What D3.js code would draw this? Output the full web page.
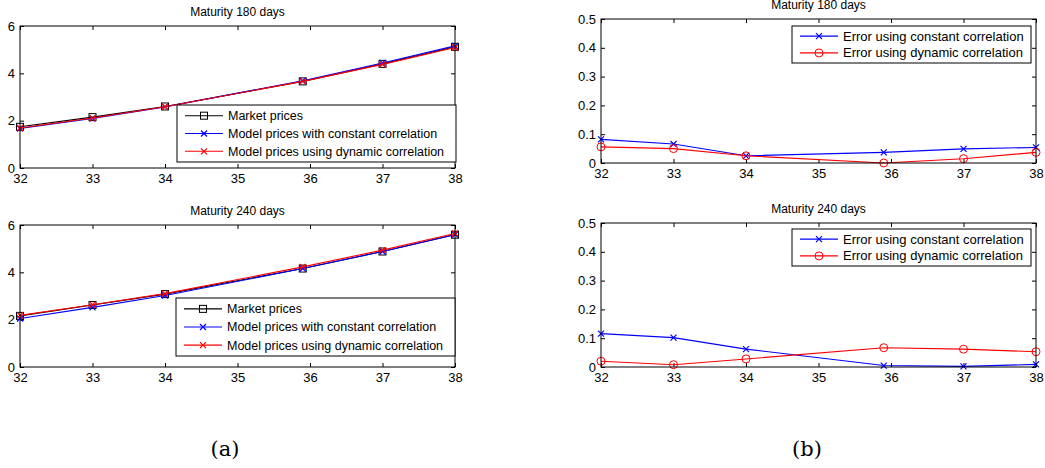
<!DOCTYPE html>
<html>
<head>
<meta charset="utf-8">
<script src="https://cdn.jsdelivr.net/npm/d3@7"></script>
<style>
body { margin: 0; background: #fff; }
svg { display: block; }
text { font-family: "Liberation Sans", Arial, sans-serif; }
text.caption { font-family: "DejaVu Serif", "Liberation Serif", serif; }
</style>
</head>
<body>
<div id="app"></div>
<script>
// data
let strikes = [32, 33, 34, 35.9, 37, 38]
let xTicks = [32, 33, 34, 35, 36, 37, 38]
let priceTicks = [0, 2, 4, 6]
let errorTicks = [0, 0.1, 0.2, 0.3, 0.4, 0.5]

let market180 = [1.74, 2.15, 2.60, 3.66, 4.40, 5.12]
let constant180 = [1.67, 2.09, 2.58, 3.69, 4.44, 5.16]
let dynamic180 = [1.69, 2.11, 2.59, 3.66, 4.38, 5.09]

let market240 = [2.16, 2.62, 3.08, 4.16, 4.88, 5.59]
let constant240 = [2.05, 2.52, 3.02, 4.16, 4.88, 5.60]
let dynamic240 = [2.18, 2.63, 3.10, 4.23, 4.94, 5.64]

let errConst180 = [0.082, 0.066, 0.025, 0.037, 0.049, 0.054]
let errDyn180 = [0.056, 0.050, 0.025, 0.0, 0.015, 0.037]
let errConst240 = [0.116, 0.102, 0.062, 0.005, 0.002, 0.009]
let errDyn240 = [0.020, 0.008, 0.028, 0.067, 0.062, 0.053]

let priceNames = ["Market prices", "Model prices with constant correlation", "Model prices using dynamic correlation"]
let errorNames = ["Error using constant correlation", "Error using dynamic correlation"]
let captions = ["(a)", "(b)"]

let width = 1045
let height = 468

let svg = d3.select("#app").append("svg")
    .attr("width", width)
    .attr("height", height)

let panels = [
    {title: "Maturity 180 days", left: 20, right: 455, top: 26, bottom: 168, yMax: 6, yTicks: priceTicks,
     series: [market180, constant180, dynamic180], names: priceNames,
     colors: ["#000", "#00f", "#f00"], markers: ["square", "x", "x"],
     legend: {x: 177, y: 105, w: 279, h: 57, font: 12.5}},
    {title: "Maturity 240 days", left: 20, right: 455, top: 225, bottom: 367, yMax: 6, yTicks: priceTicks,
     series: [market240, constant240, dynamic240], names: priceNames,
     colors: ["#000", "#00f", "#f00"], markers: ["square", "x", "x"],
     legend: {x: 176, y: 298, w: 279, h: 58, font: 12.5}},
    {title: "Maturity 180 days", left: 601, right: 1036, top: 19, bottom: 163, yMax: 0.5, yTicks: errorTicks,
     series: [errConst180, errDyn180], names: errorNames,
     colors: ["#00f", "#f00"], markers: ["x", "circle"],
     legend: {x: 792, y: 26, w: 239, h: 37, font: 13}},
    {title: "Maturity 240 days", left: 601, right: 1036, top: 223, bottom: 367, yMax: 0.5, yTicks: errorTicks,
     series: [errConst240, errDyn240], names: errorNames,
     colors: ["#00f", "#f00"], markers: ["x", "circle"],
     legend: {x: 792, y: 229, w: 239, h: 37, font: 13}}
]

function drawMarker(g, type, x, y, color) {
    if (type == "square") {
        g.append("rect")
            .attr("x", x - 3.5).attr("y", y - 3.5)
            .attr("width", 7).attr("height", 7)
            .attr("fill", "none").attr("stroke", color)
    } else if (type == "circle") {
        g.append("circle")
            .attr("cx", x).attr("cy", y).attr("r", 4)
            .attr("fill", "none").attr("stroke", color)
    } else {
        g.append("path")
            .attr("d", `M${x - 3},${y - 3}L${x + 3},${y + 3}M${x - 3},${y + 3}L${x + 3},${y - 3}`)
            .attr("stroke", color).attr("stroke-width", 1.2)
    }
}

panels.forEach(p => {
    let x = d3.scaleLinear().domain([32, 38]).range([p.left, p.right])
    let y = d3.scaleLinear().domain([0, p.yMax]).range([p.bottom, p.top])
    let g = svg.append("g")

    g.append("text")
        .attr("x", (p.left + p.right) / 2)
        .attr("y", p.top - 10)
        .attr("text-anchor", "middle")
        .attr("font-size", 12)
        .text(p.title)

    // axes with inward ticks on every side
    let fmt = d3.format("~g")
    g.append("g")
        .attr("transform", `translate(0,${p.bottom})`)
        .call(d3.axisBottom(x).tickValues(xTicks).tickSize(-4).tickPadding(6).tickFormat(fmt))
    g.append("g")
        .attr("transform", `translate(${p.left},0)`)
        .call(d3.axisLeft(y).tickValues(p.yTicks).tickSize(-4).tickPadding(5).tickFormat(fmt))
    g.append("g")
        .attr("transform", `translate(0,${p.top})`)
        .call(d3.axisTop(x).tickValues(xTicks).tickSize(-4).tickFormat(""))
    g.append("g")
        .attr("transform", `translate(${p.right},0)`)
        .call(d3.axisRight(y).tickValues(p.yTicks).tickSize(-4).tickFormat(""))
    g.selectAll(".domain").remove()
    g.selectAll(".tick text").attr("font-size", 13).attr("fill", "#000")
    g.selectAll(".tick line").attr("stroke", "#000")

    let line = d3.line().x((d, i) => x(strikes[i])).y(d => y(d))

    p.series.forEach((s, k) => {
        g.append("path")
            .datum(s)
            .attr("d", line)
            .attr("fill", "none")
            .attr("stroke", p.colors[k])
            .attr("stroke-width", 1.1)
        s.forEach((v, i) => drawMarker(g, p.markers[k], x(strikes[i]), y(v), p.colors[k]))
    })

    g.append("rect")
        .attr("x", p.left).attr("y", p.top)
        .attr("width", p.right - p.left).attr("height", p.bottom - p.top)
        .attr("fill", "none").attr("stroke", "#000")

    // legend
    let L = p.legend
    let lg = g.append("g")
    lg.append("rect")
        .attr("x", L.x).attr("y", L.y)
        .attr("width", L.w).attr("height", L.h)
        .attr("fill", "#fff").attr("stroke", "#000")
    let rowH = L.h / (p.names.length + 0.2)
    p.names.forEach((name, k) => {
        let ry = L.y + rowH * (k + 0.6)
        lg.append("line")
            .attr("x1", L.x + 8).attr("x2", L.x + 46)
            .attr("y1", ry).attr("y2", ry)
            .attr("stroke", p.colors[k]).attr("stroke-width", 1.1)
        drawMarker(lg, p.markers[k], L.x + 27, ry, p.colors[k])
        lg.append("text")
            .attr("x", L.x + 51).attr("y", ry)
            .attr("dy", "0.35em")
            .attr("font-size", L.font)
            .text(name)
    })
})

// sub-figure captions
svg.selectAll("text.caption")
    .data(captions)
    .enter().append("text")
    .attr("class", "caption")
    .attr("x", (d, i) => [225, 807][i])
    .attr("y", 456)
    .attr("text-anchor", "middle")
    .attr("font-size", 21)
    .text(d => d)
</script>
</body>
</html>
